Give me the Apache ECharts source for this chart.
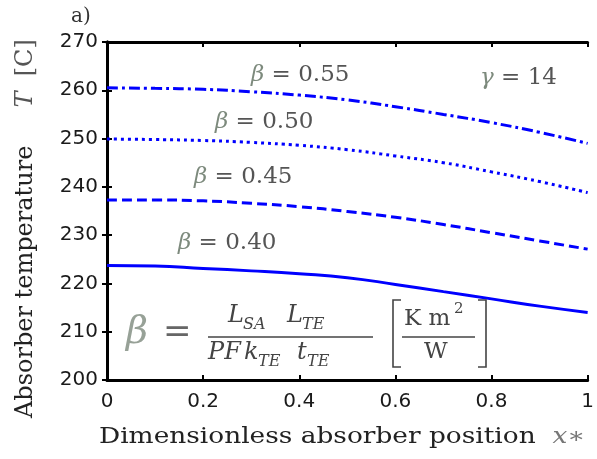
<!DOCTYPE html>
<html>
<head>
<meta charset="utf-8">
<script src="https://cdn.jsdelivr.net/npm/echarts@6/dist/echarts.min.js"></script>
<style>html,body{margin:0;padding:0;background:#fff}#c{width:597px;height:459px}</style>
</head>
<body>
<div id="c"></div>
<script>
const xPositions = [0, 0.1, 0.2, 0.3, 0.4, 0.5, 0.6, 0.7, 0.8, 0.9, 1.0];
const beta055 = [260.5, 260.4, 260.2, 259.7, 259.0, 258.0, 256.6, 255.0, 253.3, 251.3, 249.0];
const beta050 = [249.9, 249.8, 249.6, 249.2, 248.6, 247.7, 246.4, 245.0, 243.1, 241.1, 238.8];
const beta045 = [237.3, 237.3, 237.1, 236.6, 235.9, 234.9, 233.7, 232.2, 230.5, 228.8, 227.1];
const beta040 = [223.7, 223.6, 223.1, 222.6, 222.0, 221.2, 219.8, 218.3, 216.8, 215.3, 214.0];
const seriesNames = ['β = 0.55', 'β = 0.50', 'β = 0.45', 'β = 0.40'];
const xTickLabels = ['0', '0.2', '0.4', '0.6', '0.8', '1'];
const yTickLabels = ['200', '210', '220', '230', '240', '250', '260', '270'];

const chart = echarts.init(document.getElementById('c'));
const pairs = arr => xPositions.map((x, i) => [x, arr[i]]);
const blue = '#0000ff';
const serif = 'DejaVu Serif';
const mathCol = '#7d8a7d';
const txtCol = '#444';
const NB = '\u00a0';

function lineSeries(name, arr, type) {
  return {
    name, type: 'line', data: pairs(arr), symbol: 'none', smooth: true,
    lineStyle: { color: blue, width: 3, type: type },
    z: 3
  };
}

const axisCommon = {
  axisLine: { show: true, lineStyle: { color: '#000', width: 3 } },
  axisTick: { show: true, inside: true, length: 5, lineStyle: { color: '#000', width: 2 } },
  splitLine: { show: false }
};

function txt(x, y, text, opt) {
  return { type: 'text', x, y, z: 10, style: Object.assign({
    text, fill: txtCol, font: '20px "' + serif + '"', align: 'left', verticalAlign: 'middle'
  }, opt || {}) };
}
function betaLabel(x, y, val, sym) {
  return { type: 'text', x, y, z: 10, style: {
    rich: {
      b: { fontStyle: 'italic', fill: mathCol, fontFamily: serif, fontSize: 23 },
      n: { fill: '#555', fontFamily: serif, fontSize: 23 }
    },
    text: '{b|' + (sym || 'β') + '}{n|' + NB + '=' + NB + val + '}', verticalAlign: 'middle', align: 'left'
  } };
}
const it = (px) => 'italic ' + px + 'px "' + serif + '"';
const up = (px) => px + 'px "' + serif + '"';

const graphics = [
  txt(71, 17, 'a)', { font: up(20), fill: '#333' }),
  betaLabel(251, 75, '0.55'),
  betaLabel(215, 122, '0.50'),
  betaLabel(194, 177, '0.45'),
  betaLabel(178, 243, '0.40'),
  betaLabel(480, 78, '14', 'γ'),
  // formula
  txt(126, 333, 'β', { font: it(38), fill: '#97a197' }),
  txt(163, 333, '=', { font: up(34), fill: '#666' }),
  txt(228, 316, 'L', { font: it(24) }),
  txt(243, 325, 'SA', { font: it(16) }),
  txt(287, 316, 'L', { font: it(24) }),
  txt(302, 325, 'TE', { font: it(16) }),
  { type: 'line', z: 10, shape: { x1: 208, y1: 337, x2: 373, y2: 337 }, style: { stroke: '#444', lineWidth: 1.5 } },
  txt(208, 353, 'PF', { font: it(24) }),
  txt(244, 353, 'k', { font: it(24) }),
  txt(258, 362, 'TE', { font: it(16) }),
  txt(297, 353, 't', { font: it(24) }),
  txt(307, 362, 'TE', { font: it(16) }),
  // bracket and unit
  { type: 'polyline', z: 10, shape: { points: [[401, 300], [393, 300], [393, 367], [401, 367]] }, style: { stroke: '#444', lineWidth: 1.6, fill: null } },
  { type: 'polyline', z: 10, shape: { points: [[478, 300], [486, 300], [486, 367], [478, 367]] }, style: { stroke: '#444', lineWidth: 1.6, fill: null } },
  txt(404, 319, 'K m', { font: up(23) }),
  txt(454, 309, '2', { font: up(15) }),
  { type: 'line', z: 10, shape: { x1: 402, y1: 337, x2: 475, y2: 337 }, style: { stroke: '#444', lineWidth: 1.5 } },
  txt(424, 352, 'W', { font: up(23) }),
  // axis titles
  { type: 'text', x: 99, y: 437, scaleX: 1.2, z: 10, style: { rich: { n: { fill: '#222', fontFamily: serif, fontSize: 22 }, i: { fill: '#777', fontFamily: serif, fontSize: 22, fontStyle: 'italic' } }, text: '{n|Dimensionless absorber position' + NB.repeat(2) + '}{i|x∗}', verticalAlign: 'middle', align: 'left' } },
  { type: 'text', x: 26, y: 418, rotation: Math.PI / 2, z: 10, style: { rich: { n: { fill: '#222', fontFamily: serif, fontSize: 24 }, i: { fill: '#555', fontFamily: serif, fontSize: 24, fontStyle: 'italic' }, g: { fill: '#555', fontFamily: serif, fontSize: 24 } }, text: '{n|Absorber temperature' + NB.repeat(5) + '}{i|T}{g|' + NB + NB + '[C]}', align: 'left', verticalAlign: 'middle' } }
];

chart.setOption({
  animation: false,
  backgroundColor: '#fff',
  grid: { left: 107, right: 5, top: 42, bottom: 79, containLabel: false },
  xAxis: [
    Object.assign({}, axisCommon, {
      type: 'value', min: 0, max: 1, interval: 0.2, position: 'bottom',
      axisLabel: { margin: 12, fontSize: 20, fontFamily: 'DejaVu Sans', color: '#1a1a1a',
        formatter: (v) => xTickLabels[Math.round(v / 0.2)] }
    }),
    Object.assign({}, axisCommon, {
      type: 'value', min: 0, max: 1, interval: 0.2, position: 'top',
      axisLabel: { show: false }
    })
  ],
  yAxis: [
    Object.assign({}, axisCommon, {
      type: 'value', min: 200, max: 270, interval: 10, position: 'left',
      axisLabel: { margin: 9, fontSize: 20, fontFamily: 'DejaVu Sans', color: '#1a1a1a',
        formatter: (v) => yTickLabels[Math.round((v - 200) / 10)] }
    }),
    Object.assign({}, axisCommon, {
      type: 'value', min: 200, max: 270, interval: 10, position: 'right',
      axisLabel: { show: false }
    })
  ],
  series: [
    lineSeries(seriesNames[0], beta055, [11, 4, 3, 4]),
    lineSeries(seriesNames[1], beta050, [3, 4]),
    lineSeries(seriesNames[2], beta045, [10, 5]),
    lineSeries(seriesNames[3], beta040, 'solid')
  ],
  graphic: graphics
});
</script>
</body>
</html>
